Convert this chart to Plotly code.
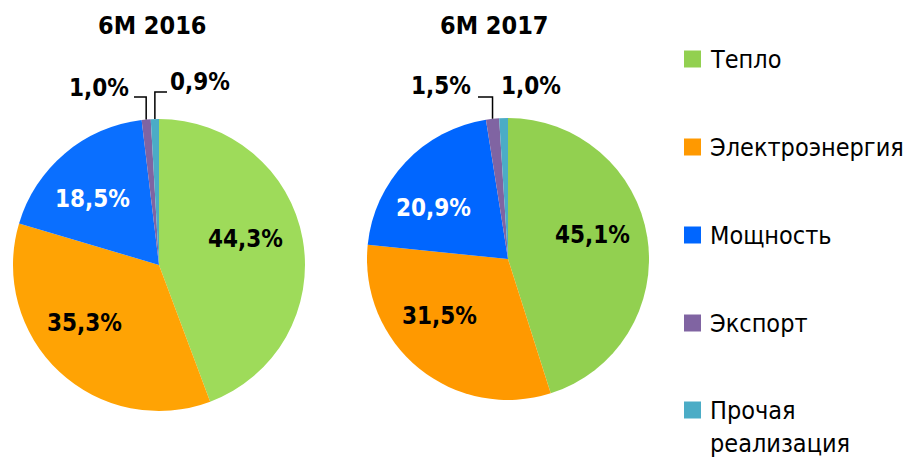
import math
import plotly.graph_objects as go

W, H = 909, 462

# ---- data ----
categories = ["Тепло", "Электроэнергия", "Мощность", "Экспорт", "Прочая реализация"]
legend_labels = ["Тепло", "Электроэнергия", "Мощность", "Экспорт", "Прочая<br>реализация"]
values_2016 = [44.3, 35.3, 18.5, 1.0, 0.9]
values_2017 = [45.1, 31.5, 20.9, 1.5, 1.0]
titles = ["6M 2016", "6M 2017"]

# ---- style ----
colors_2016 = ["#9EDB5A", "#FFA304", "#0A6FFF", "#8064A2", "#4BACC6"]
colors_2017 = ["#92D050", "#FF9900", "#0066FF", "#8064A2", "#4BACC6"]
legend_colors = ["#92D050", "#FF9900", "#0066FF", "#8064A2", "#4BACC6"]
inside_font_colors = ["black", "black", "white"]
FONT = "DejaVu Sans Condensed, Liberation Sans, sans-serif"

pies = [
    dict(values=values_2016, colors=colors_2016, title=titles[0], cx=159, cy=265, r=146,
         title_x=152, lab_frac=[0.62, 0.65, 0.64], lab_dang=[-6.7, 9, -5],
         outside=[(97, 134, 99, 88, True), (92, 167, 200, 82, True)]),
    dict(values=values_2017, colors=colors_2017, title=titles[1], cx=508, cy=259, r=141,
         title_x=494, lab_frac=[0.62, 0.63, 0.64], lab_dang=[-7, 11, -9],
         outside=[(97, 478, 441, 86, True), (None, None, 531, 86, False)]),
]


def fmt(v):
    return f"{v:.1f}".replace(".", ",") + "%"


def px(x):
    return x / W


def py(y):
    return 1 - y / H


def label(x, y, text, size, color="black", bold=True):
    return dict(x=px(x), y=py(y), xref="paper", yref="paper", xanchor="center",
                yanchor="middle", text=text, showarrow=False,
                font=dict(family=FONT, size=size, color=color,
                          weight="bold" if bold else "normal"))


fig = go.Figure()
annotations = []
shapes = []

for p in pies:
    cx, cy, r = p["cx"], p["cy"], p["r"]
    fig.add_trace(go.Pie(
        values=p["values"], labels=categories, sort=False, direction="clockwise",
        rotation=0, marker=dict(colors=p["colors"], line=dict(width=0)),
        textinfo="none", hoverinfo="label+percent", showlegend=False,
        domain=dict(x=[px(cx - r), px(cx + r)], y=[py(cy + r), py(cy - r)]),
    ))
    annotations.append(label(p["title_x"], 26, p["title"], 25))
    total = sum(p["values"])
    cum = 0.0
    for i, v in enumerate(p["values"]):
        a0 = cum / total * 360
        cum += v
        a1 = cum / total * 360
        mid = (a0 + a1) / 2
        if i < 3:
            ang = math.radians(mid + p["lab_dang"][i])
            rr = p["lab_frac"][i] * r
            x = cx + rr * math.sin(ang)
            y = cy - rr * math.cos(ang)
            annotations.append(label(x, y, fmt(v), 24, inside_font_colors[i]))
        else:
            ey, ex, lx, ly, leader = p["outside"][i - 3]
            ang = math.radians(mid)
            x0 = cx + r * math.sin(ang)
            y0 = cy - r * math.cos(ang)
            if leader:
                shapes.append(dict(type="path", xref="paper", yref="paper",
                                   path=f"M {px(x0)},{py(y0)} L {px(x0)},{py(ey)} L {px(ex)},{py(ey)}",
                                   line=dict(color="black", width=1.5)))
            annotations.append(label(lx, ly, fmt(v), 24))

# ---- legend (manual) ----
legend_y = [59, 147, 235, 323, 410]
for lab, col, y in zip(legend_labels, legend_colors, legend_y):
    shapes.append(dict(type="rect", xref="paper", yref="paper",
                       x0=px(684), x1=px(701), y0=py(y + 8.5), y1=py(y - 8.5),
                       fillcolor=col, line=dict(width=0)))
    annotations.append(dict(x=px(708), y=py(y - 16), xref="paper", yref="paper",
                            xanchor="left", yanchor="top", align="left",
                            text=lab, showarrow=False,
                            font=dict(family=FONT, size=25, color="black")))

fig.update_layout(
    width=W, height=H, margin=dict(l=0, r=0, t=0, b=0),
    paper_bgcolor="white", plot_bgcolor="white",
    annotations=annotations, shapes=shapes, showlegend=False,
)

fig.write_html("out.html", config={"displayModeBar": False},
               post_script="document.body.style.margin='0';document.body.style.overflow='hidden';")
